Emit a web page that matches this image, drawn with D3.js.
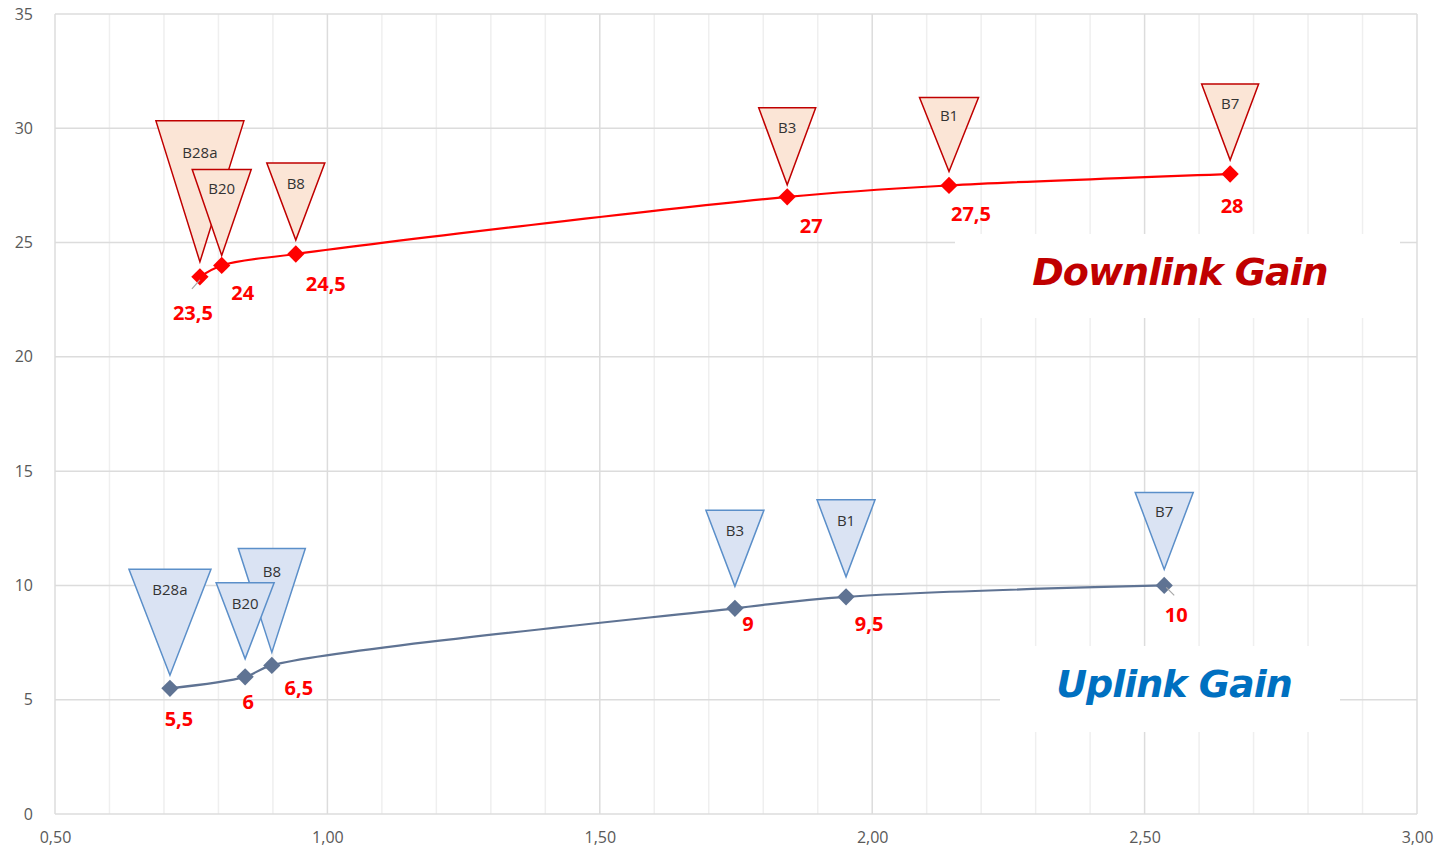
<!DOCTYPE html>
<html>
<head>
<meta charset="utf-8">
<script src="https://cdn.jsdelivr.net/npm/d3@7"></script>
<style>
  body { margin: 0; background: #fff; }
  svg { display: block; }
</style>
</head>
<body>
<script>
// band names and frequencies (GHz)
var bands = ["B28a", "B20", "B8", "B3", "B1", "B7"];
var dlFreq = [0.766, 0.806, 0.942, 1.844, 2.141, 2.657];
var dlGain = [23.5, 24, 24.5, 27, 27.5, 28];
var ulFreq = [0.711, 0.849, 0.898, 1.748, 1.952, 2.536];
var ulGain = [5.5, 6, 6.5, 9, 9.5, 10];
var dlLabels = ["23,5", "24", "24,5", "27", "27,5", "28"];
var ulLabels = ["5,5", "6", "6,5", "9", "9,5", "10"];
var xTicks = [0.5, 1.0, 1.5, 2.0, 2.5, 3.0];
var yTicks = [0, 5, 10, 15, 20, 25, 30, 35];

// callout triangle geometry [gap above point, height, width, text dy] and value label offsets [dx, dy]
var dlCallout = [[15, 141, 88, 31], [10, 86, 59, 19], [14, 77, 58, 20], [12, 77, 57, 19], [14, 74, 59, 18], [14, 76, 57, 19]];
var ulCallout = [[13, 106, 82, 20], [18, 76, 58, 20], [13, 104, 67, 23], [22, 76, 58, 20], [20, 77, 58, 20], [16, 77, 58, 19]];
var dlLabelOff = [[-7, 36], [21, 27], [30, 29], [24, 29], [22, 28], [2, 31]];
var ulLabelOff = [[9, 30], [3, 25], [27, 22], [13, 15], [23, 27], [12, 29]];
var drawOrder = [0, 2, 1, 3, 4, 5];

var W = 1444, H = 853;
var svg = d3.select("body").append("svg").attr("width", W).attr("height", H);

var x = d3.scaleLinear().domain([0.5, 3.0]).range([55, 1417]);
var y = d3.scaleLinear().domain([0, 35]).range([814, 14]);

// minor vertical grid
svg.append("g").selectAll("line")
  .data(d3.range(6, 30).map(function (d) { return d / 10; }).filter(function (d) { return Math.abs(d * 2 - Math.round(d * 2)) > 0.01; }))
  .enter().append("line")
  .attr("x1", function (d) { return x(d); }).attr("x2", function (d) { return x(d); })
  .attr("y1", y(35)).attr("y2", y(0))
  .attr("stroke", "#efefef").attr("stroke-width", 1.5);

// major grid
svg.append("g").selectAll("line")
  .data(xTicks)
  .enter().append("line")
  .attr("x1", function (d) { return x(d); }).attr("x2", function (d) { return x(d); })
  .attr("y1", y(35)).attr("y2", y(0))
  .attr("stroke", "#dcdcdc").attr("stroke-width", 1.5);
svg.append("g").selectAll("line")
  .data(yTicks)
  .enter().append("line")
  .attr("x1", x(0.5)).attr("x2", x(3.0))
  .attr("y1", function (d) { return y(d); }).attr("y2", function (d) { return y(d); })
  .attr("stroke", "#dcdcdc").attr("stroke-width", 1.5);

// axes
var xAxis = svg.append("g").attr("transform", "translate(0," + (y(0) + 15) + ")")
  .call(d3.axisBottom(x).tickValues(xTicks).tickSize(0).tickFormat(function (d) { return d3.format(".2f")(d).replace(".", ","); }));
var yAxis = svg.append("g").attr("transform", "translate(" + (x(0.5) - 19) + ",0)")
  .call(d3.axisLeft(y).tickValues(yTicks).tickSize(0));
[xAxis, yAxis].forEach(function (a) {
  a.select(".domain").remove();
  a.selectAll("text").attr("fill", "#595959").style("font-family", "'Open Sans', sans-serif").style("font-size", "16px");
});

// title boxes
function titleBox(x0, y0, w, h, txt, color, cx, cy) {
  svg.append("rect").attr("x", x0).attr("y", y0).attr("width", w).attr("height", h).attr("fill", "#fff");
  svg.append("text").attr("x", cx).attr("y", cy).attr("text-anchor", "middle")
    .attr("dominant-baseline", "central")
    .attr("fill", color).style("font-family", "'DejaVu Sans', Verdana, sans-serif")
    .style("font-weight", "bold").style("font-style", "italic").style("font-size", "38px")
    .style("letter-spacing", "-1px")
    .text(txt);
}
titleBox(955, 234, 445, 84, "Downlink Gain", "#c00000", 1180, 272);
titleBox(1000, 646, 340, 86, "Uplink Gain", "#0070c0", 1174, 684);

function series(freq, gain, lineColor, markColor, triFill, triStroke, callout, labels, labelOff) {
  var pts = freq.map(function (f, i) { return [f, gain[i]]; });
  var line = d3.line().x(function (d) { return x(d[0]); }).y(function (d) { return y(d[1]); })
    .curve(d3.curveCatmullRom.alpha(0.5));
  svg.append("path").datum(pts).attr("d", line).attr("fill", "none")
    .attr("stroke", lineColor).attr("stroke-width", 2.2);

  // callout triangles
  var g = svg.append("g");
  drawOrder.forEach(function (i) {
    var p = pts[i];
    var px = x(p[0]), py = y(p[1]);
    var c = callout[i];
    var tipY = py - c[0], topY = tipY - c[1];
    g.append("path")
      .attr("d", "M" + (px - c[2] / 2) + "," + topY + "L" + (px + c[2] / 2) + "," + topY + "L" + px + "," + tipY + "Z")
      .attr("fill", triFill).attr("stroke", triStroke).attr("stroke-width", 1.5);
    g.append("text").attr("x", px).attr("y", topY + c[3]).attr("text-anchor", "middle")
      .attr("dominant-baseline", "central")
      .attr("fill", "#333").style("font-family", "'Open Sans', sans-serif").style("font-size", "15px")
      .text(bands[i]);
  });

  // markers
  svg.append("g").selectAll("path").data(pts).enter().append("path")
    .attr("d", d3.symbol().type(d3.symbolDiamond2).size(190))
    .attr("transform", function (d) { return "translate(" + x(d[0]) + "," + y(d[1]) + ")"; })
    .attr("fill", markColor);

  // value labels
  svg.append("g").selectAll("text").data(pts).enter().append("text")
    .attr("x", function (d, i) { return x(d[0]) + labelOff[i][0]; })
    .attr("y", function (d, i) { return y(d[1]) + labelOff[i][1]; })
    .attr("text-anchor", "middle").attr("dominant-baseline", "central")
    .attr("fill", "#ff0000").style("font-family", "'Open Sans', sans-serif")
    .style("font-weight", "bold").style("font-size", "20px")
    .text(function (d, i) { return labels[i]; });
}

series(dlFreq, dlGain, "#ff0000", "#ff0000", "#fbe5d6", "#c00000", dlCallout, dlLabels, dlLabelOff);
series(ulFreq, ulGain, "#5f7393", "#5f7393", "#dae3f3", "#5b8fc9", ulCallout, ulLabels, ulLabelOff);

// small leader lines
svg.append("line").attr("x1", x(dlFreq[0]) - 8).attr("y1", y(dlGain[0]) + 12)
  .attr("x2", x(dlFreq[0])).attr("y2", y(dlGain[0]) + 3).attr("stroke", "#a6a6a6").attr("stroke-width", 1.2);
svg.append("line").attr("x1", x(ulFreq[5]) + 2).attr("y1", y(ulGain[5]) + 2)
  .attr("x2", x(ulFreq[5]) + 10).attr("y2", y(ulGain[5]) + 10).attr("stroke", "#a6a6a6").attr("stroke-width", 1.2);
</script>
</body>
</html>
